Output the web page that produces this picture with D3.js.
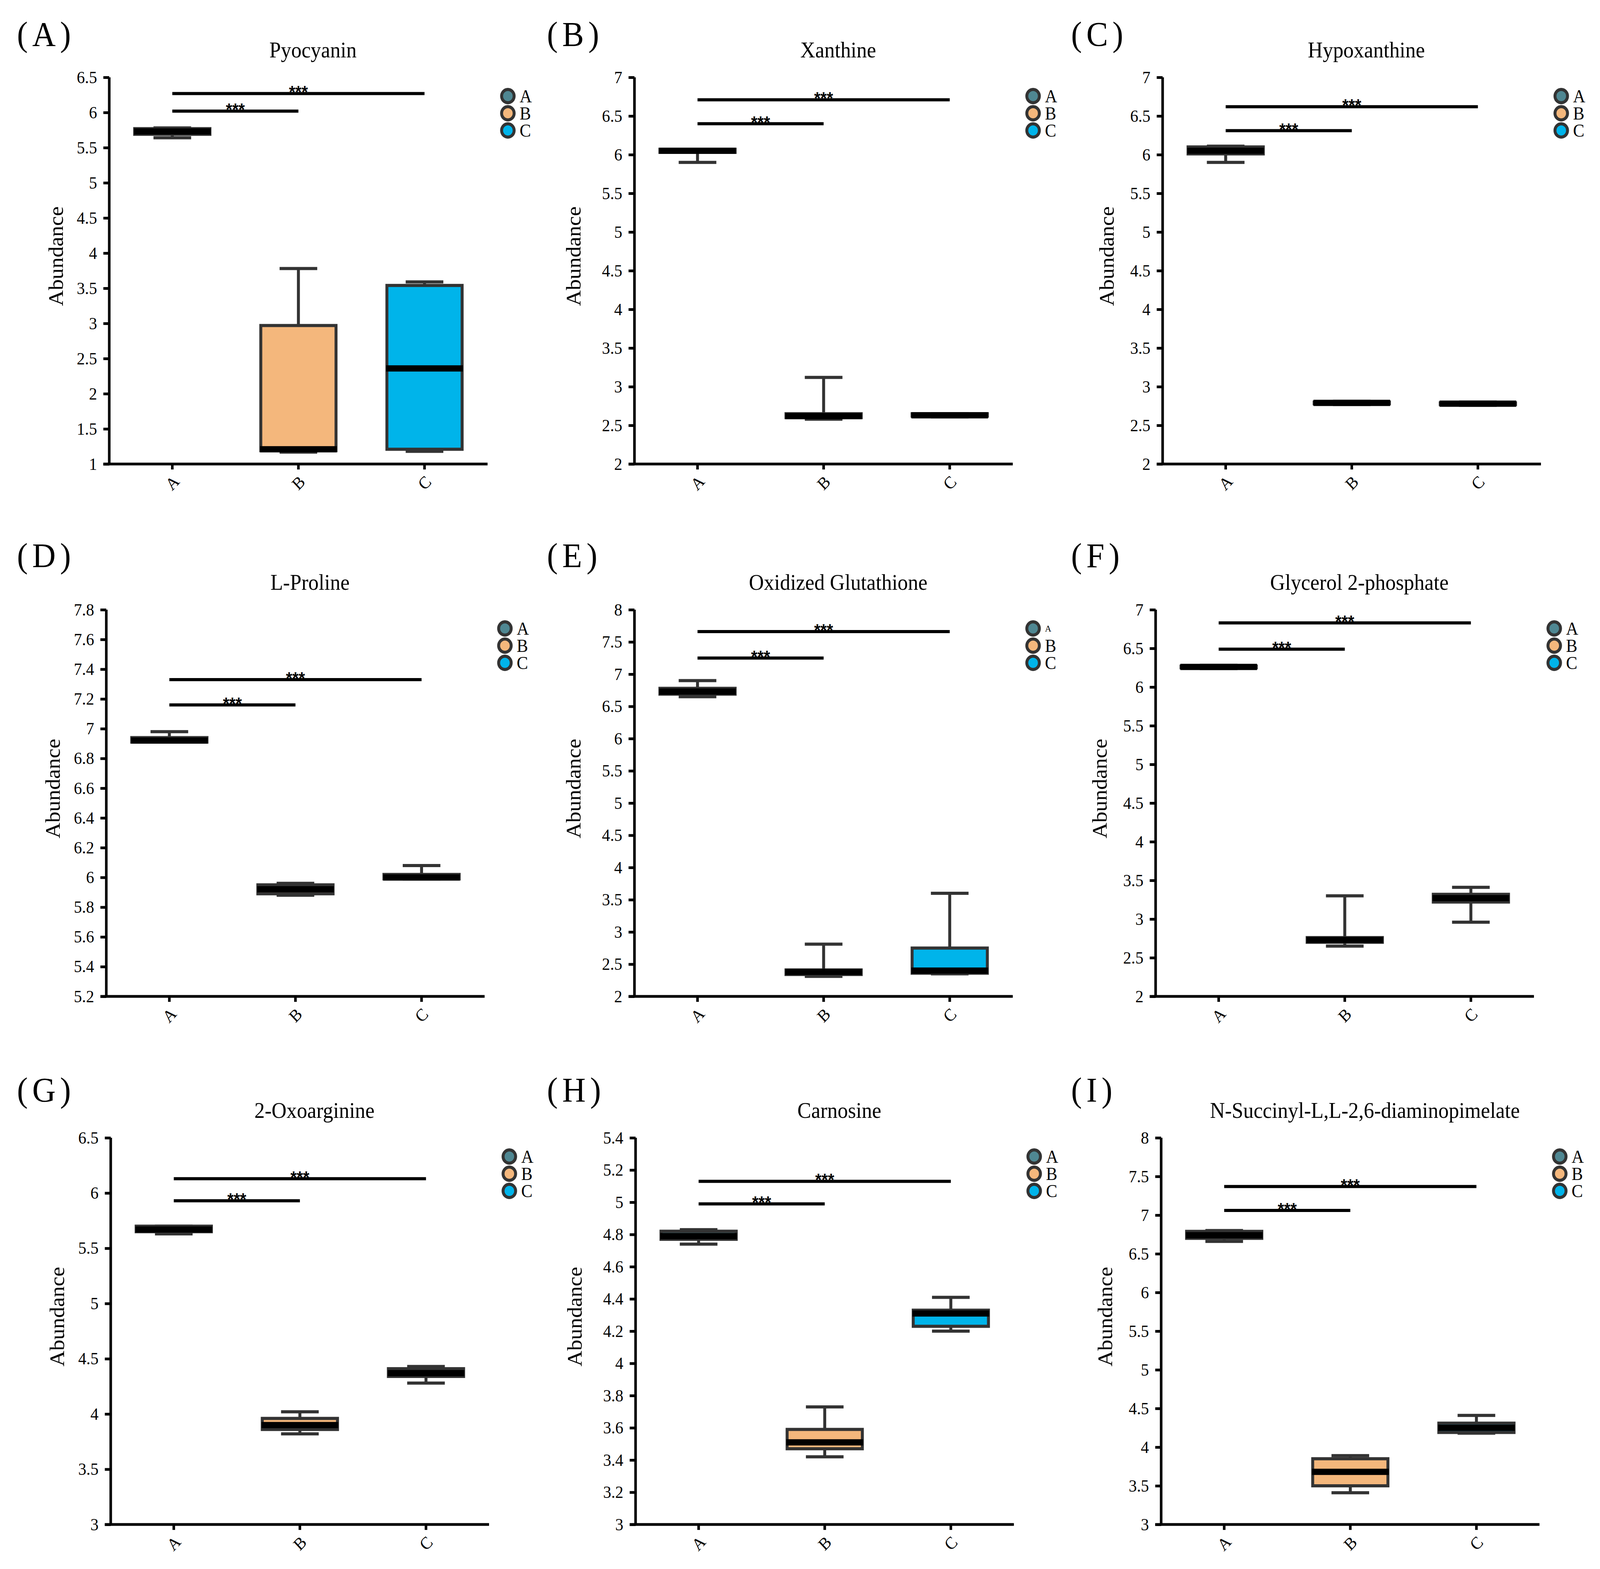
<!DOCTYPE html>
<html>
<head>
<meta charset="utf-8">
<script src="https://cdn.jsdelivr.net/npm/d3@7/dist/d3.min.js"></script>
<style>
  html, body { margin: 0; padding: 0; background: #fff; width: 100%; height: 100%; overflow: hidden; }
  svg { display: block; width: 100vw; height: 100vh; }
</style>
</head>
<body>
<svg id="chart" viewBox="0 0 4335 4017" preserveAspectRatio="none"></svg>
<script>
// ---------------- DATA ----------------
const groups = ["A", "B", "C"];
const panelLetters = ["A", "B", "C", "D", "E", "F", "G", "H", "I"];
const titles = ["Pyocyanin", "Xanthine", "Hypoxanthine", "L-Proline", "Oxidized Glutathione",
  "Glycerol 2-phosphate", "2-Oxoarginine", "Carnosine", "N-Succinyl-L,L-2,6-diaminopimelate"];
const yMin  = [1, 2, 2, 5.2, 2, 2, 3, 3, 3];
const yMax  = [6.5, 7, 7, 7.8, 8, 7, 6.5, 5.4, 8];
const yStep = [0.5, 0.5, 0.5, 0.2, 0.5, 0.5, 0.5, 0.2, 0.5];

// per panel: [group A, group B, group C]
const minV = [[5.64, 1.17, 1.18], [5.90, 2.58, 2.61], [5.90, 2.77, 2.76], [6.91, 5.88, 5.99], [6.65, 2.31, 2.35],
              [6.24, 2.65, 2.96], [5.63, 3.82, 4.28], [4.74, 3.42, 4.20], [6.66, 3.41, 4.18]];
const q1V  = [[5.69, 1.19, 1.21], [6.03, 2.60, 2.62], [6.01, 2.78, 2.77], [6.91, 5.89, 5.99], [6.69, 2.34, 2.36],
              [6.25, 2.70, 3.22], [5.65, 3.86, 4.34], [4.77, 3.47, 4.23], [6.70, 3.50, 4.19]];
const medV = [[5.73, 1.21, 2.36], [6.05, 2.62, 2.63], [6.05, 2.79, 2.78], [6.92, 5.92, 6.00], [6.73, 2.38, 2.40],
              [6.26, 2.73, 3.27], [5.67, 3.90, 4.37], [4.79, 3.51, 4.31], [6.74, 3.68, 4.25]];
const q3V  = [[5.77, 2.97, 3.54], [6.07, 2.65, 2.65], [6.10, 2.80, 2.79], [6.94, 5.95, 6.02], [6.78, 2.41, 2.75],
              [6.27, 2.76, 3.32], [5.70, 3.96, 4.41], [4.82, 3.59, 4.33], [6.79, 3.85, 4.31]];
const maxV = [[5.78, 3.78, 3.59], [6.07, 3.12, 2.65], [6.11, 2.81, 2.80], [6.98, 5.96, 6.08], [6.90, 2.81, 3.60],
              [6.28, 3.30, 3.41], [5.70, 4.02, 4.43], [4.83, 3.73, 4.41], [6.80, 3.89, 4.41]];
// significance bar heights (A vs B, A vs C)
const sigAB = [6.02, 6.40, 6.31, 7.16, 7.25, 6.49, 5.93, 4.99, 7.06];
const sigAC = [6.27, 6.71, 6.62, 7.33, 7.66, 6.83, 6.13, 5.13, 7.37];
const sigLabel = "***";

// ---------------- STYLE / LAYOUT ----------------
const groupColors = ["#4f8792", "#f4b77c", "#00b4ea"];
const axisX = [296, 1719, 3150, 288, 1719, 3131, 300, 1722, 3146];
const rowTop = [198, 1561, 2913];
const plotH = 990, plotW = 1025;
const colLabelX = [46, 1482, 2902];
const rowLabelY = [117, 1452, 2820];
const yTitleOff = [-145, -165, -152];
const serif = "'Liberation Serif', 'Times New Roman', serif";

const svg = d3.select("#chart");
svg.append("rect").attr("width", 4335).attr("height", 4017).attr("fill", "#fff");

panelLetters.forEach((letter, i) => {
  const row = Math.floor(i / 3), col = i % 3;
  const ax = axisX[i], top = rowTop[row], bottom = top + plotH;
  const g = svg.append("g");

  const y = d3.scaleLinear().domain([yMin[i], yMax[i]]).range([bottom, top]);
  const x = d3.scaleBand().domain(groups).range([ax, ax + plotW]).paddingInner(0.38).paddingOuter(0.19);
  const bw = x.bandwidth();

  // panel label
  g.append("text").attr("x", colLabelX[col]).attr("y", rowLabelY[row])
    .attr("font-family", serif).attr("font-size", 88).attr("letter-spacing", 12)
    .text("(" + letter + ")");

  // title
  g.append("text").attr("x", ax + 552).attr("y", top - 51)
    .attr("text-anchor", "middle").attr("font-family", serif).attr("font-size", 56)
    .text(titles[i]);

  // y axis
  const ticks = d3.range(0, Math.round((yMax[i] - yMin[i]) / yStep[i]) + 1).map(k => +(yMin[i] + k * yStep[i]).toFixed(2));
  const yAxis = d3.axisLeft(y).tickValues(ticks).tickSize(16).tickSizeOuter(0).tickPadding(17)
    .tickFormat(v => String(+v.toFixed(1)));
  const gy = g.append("g").attr("transform", `translate(${ax},0)`).call(yAxis);
  gy.attr("font-family", serif);
  gy.select(".domain").attr("stroke", "#000").attr("stroke-width", 7)
    .attr("d", `M0,${top}V${bottom}`);
  gy.selectAll(".tick line").attr("stroke", "#000").attr("stroke-width", 7);
  gy.selectAll(".tick text").attr("font-family", serif).attr("font-size", 44).attr("fill", "#000");

  // x axis
  const xAxis = d3.axisBottom(x).tickSize(14).tickSizeOuter(0);
  const gx = g.append("g").attr("transform", `translate(0,${bottom})`).call(xAxis);
  gx.attr("font-family", serif);
  gx.select(".domain").attr("stroke", "#000").attr("stroke-width", 7)
    .attr("d", `M${ax - 16},0H${ax + plotW}`);
  gx.selectAll(".tick line").attr("stroke", "#000").attr("stroke-width", 7);
  gx.selectAll(".tick text").attr("font-family", serif).attr("font-size", 44).attr("fill", "#000")
    .attr("y", 0).attr("dy", null)
    .attr("transform", "translate(0,48) rotate(-45)")
    .attr("text-anchor", "middle").attr("dominant-baseline", "central");

  // y title
  g.append("text")
    .attr("transform", `translate(${ax + yTitleOff[col]},${(top + bottom) / 2 - 37}) rotate(-90)`)
    .attr("text-anchor", "middle").attr("dominant-baseline", "central")
    .attr("font-family", serif).attr("font-size", 56).text("Abundance");

  // boxes
  groups.forEach((grp, j) => {
    const cx = x(grp) + bw / 2;
    const bx = x(grp);
    const capW = 102;
    const stats = { min: minV[i][j], q1: q1V[i][j], med: medV[i][j], q3: q3V[i][j], max: maxV[i][j] };
    const gb = g.append("g");
    // whiskers
    gb.append("line").attr("x1", cx).attr("x2", cx).attr("y1", y(stats.q3)).attr("y2", y(stats.max))
      .attr("stroke", "#333").attr("stroke-width", 8);
    gb.append("line").attr("x1", cx).attr("x2", cx).attr("y1", y(stats.q1)).attr("y2", y(stats.min))
      .attr("stroke", "#333").attr("stroke-width", 8);
    gb.append("line").attr("x1", cx - capW / 2).attr("x2", cx + capW / 2).attr("y1", y(stats.max)).attr("y2", y(stats.max))
      .attr("stroke", "#333").attr("stroke-width", 8);
    gb.append("line").attr("x1", cx - capW / 2).attr("x2", cx + capW / 2).attr("y1", y(stats.min)).attr("y2", y(stats.min))
      .attr("stroke", "#333").attr("stroke-width", 8);
    // box
    gb.append("rect").attr("x", bx + 4).attr("width", bw - 8)
      .attr("y", y(stats.q3)).attr("height", Math.max(0, y(stats.q1) - y(stats.q3)))
      .attr("fill", groupColors[j]).attr("stroke", "#333").attr("stroke-width", 8);
    // median
    gb.append("line").attr("x1", bx + 2).attr("x2", bx + bw - 2).attr("y1", y(stats.med)).attr("y2", y(stats.med))
      .attr("stroke", "#000").attr("stroke-width", 16);
  });

  // significance bars
  const xA = x("A") + bw / 2;
  [[sigAB[i], "B"], [sigAC[i], "C"]].forEach(([v, target]) => {
    const x2 = x(target) + bw / 2;
    const x1 = xA;
    g.append("line").attr("x1", x1).attr("x2", x2).attr("y1", y(v)).attr("y2", y(v))
      .attr("stroke", "#000").attr("stroke-width", 8);
    g.append("text").attr("x", (x1 + x2) / 2).attr("y", y(v) + 12).attr("text-anchor", "middle")
      .attr("font-family", "'Liberation Sans', Arial, sans-serif").attr("font-weight", "bold").attr("font-size", 44)
      .text(sigLabel);
  });

  // legend
  const lg = g.append("g").attr("transform", `translate(${ax + 1080},${top + 48})`);
  groups.forEach((grp, j) => {
    lg.append("circle").attr("cx", 0).attr("cy", j * 44).attr("r", 17)
      .attr("fill", groupColors[j]).attr("stroke", "#333").attr("stroke-width", 8);
    const small = (letter === "E" && j === 0);
    lg.append("text").attr("x", 32).attr("y", j * 44 + (small ? 8 : 16))
      .attr("font-family", serif).attr("font-size", small ? 24 : 46).text(grp);
  });
});
</script>
</body>
</html>
